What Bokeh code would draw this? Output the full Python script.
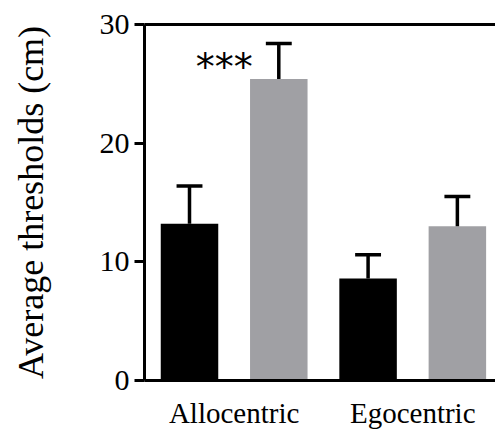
from bokeh.plotting import figure
from bokeh.models import LinearAxis, FixedTicker, Range1d, ColumnDataSource
from bokeh.core.properties import value
from bokeh.embed import file_html
from bokeh.resources import INLINE

# data
categories = ["Allocentric", "Egocentric"]
groups = ["black", "gray"]
means = [13.2, 25.4, 8.6, 13.0]          # Allo-black, Allo-gray, Ego-black, Ego-gray
sems = [3.2, 3.0, 2.0, 2.5]
bar_colors = ["#000000", "#a0a0a4", "#000000", "#a0a0a4"]
y_ticks = [0, 10, 20, 30]
significance = "***"

xs = list(range(len(means)))
bar_w = 0.644
cap_half = 0.145

src = ColumnDataSource(dict(
    x=xs, top=means, color=bar_colors,
    up=[m + s for m, s in zip(means, sems)],
    cx0=[x - cap_half for x in xs], cx1=[x + cap_half for x in xs],
))

SERIF = "Liberation Serif"

p = figure(width=495, height=434, output_backend="svg", toolbar_location=None,
           x_range=Range1d(-0.504, 3.427), y_range=Range1d(0, 30),
           min_border_left=144, min_border_right=0, min_border_top=24,
           min_border_bottom=54)
p.outline_line_color = None
p.grid.visible = False
p.background_fill_color = "white"
p.border_fill_color = "white"

p.vbar(x="x", top="top", bottom=0, width=bar_w, fill_color="color",
       line_color=None, source=src)
p.segment(x0="x", y0="top", x1="x", y1="up", line_color="black",
          line_width=3.5, source=src)
p.segment(x0="cx0", y0="up", x1="cx1", y1="up", line_color="black",
          line_width=3.5, source=src)

# significance stars left of the gray allocentric bar
p.text(x=[xs[1] - bar_w / 2 + 0.03], y=[means[1] + 1.0], text=[significance],
       text_font=value("DejaVu Sans"), text_font_size="38px",
       text_align="right", text_baseline="middle", text_color="black")

# y axis
ya = p.yaxis[0]
ya.ticker = FixedTicker(ticks=y_ticks)
ya.axis_label = "Average thresholds (cm)"
ya.axis_label_text_font = SERIF
ya.axis_label_text_font_style = "normal"
ya.axis_label_text_font_size = "36px"
ya.axis_label_text_color = "black"
ya.axis_label_standoff = 46
ya.major_label_text_font = SERIF
ya.major_label_text_font_size = "30px"
ya.major_label_text_color = "black"
ya.major_label_standoff = 5
ya.major_tick_out = 10
ya.major_tick_in = 0
ya.minor_tick_out = 0
ya.minor_tick_in = 0
ya.axis_line_width = 3
ya.major_tick_line_width = 3

# x axis
xa = p.xaxis[0]
xa.ticker = FixedTicker(ticks=[0.5, 2.5])
xa.major_label_overrides = {0.5: categories[0], 2.5: categories[1]}
xa.major_label_text_font = SERIF
xa.major_label_text_font_size = "29px"
xa.major_label_text_color = "black"
xa.major_label_standoff = 16
xa.major_tick_out = 0
xa.major_tick_in = 0
xa.minor_tick_out = 0
xa.minor_tick_in = 0
xa.axis_line_width = 3

# top frame line
top = LinearAxis(ticker=FixedTicker(ticks=[]), major_label_text_font_size="0px",
                 major_tick_out=0, minor_tick_out=0, axis_line_width=3)
p.add_layout(top, "above")

open("out.html", "w").write(file_html(p, INLINE))
